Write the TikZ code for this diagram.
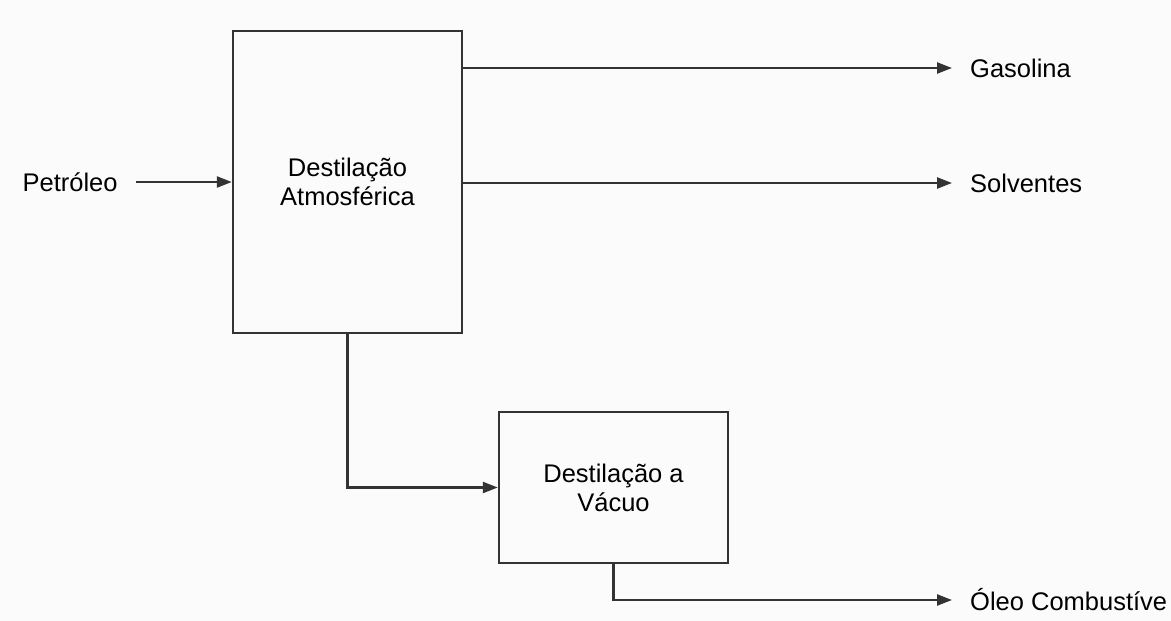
\documentclass[tikz,border=0pt]{standalone}
\usepackage{fontspec}
\setmainfont{Liberation Sans}
\usepackage{tikz}
\usetikzlibrary{arrows.meta,positioning}
\definecolor{ink}{HTML}{333333}
\definecolor{paper}{HTML}{FBFBFB}

\begin{document}
\begin{tikzpicture}[
    x=1pt, y=-1pt,
    font=\fontsize{25.5}{29}\selectfont,
    box/.style={rectangle, draw=ink, line width=2.4pt, fill=paper, minimum width=229pt, align=center, inner sep=0pt},
    lbl/.style={inner xsep=18pt, inner ysep=0pt, text=black},
    arrow/.style={-{Triangle[length=15pt,width=11pt]}, line width=2.4pt, color=ink}
]
\fill[paper] (0,0) rectangle (1171,621);
\useasboundingbox (0,0) rectangle (1171,621);

\node[box, minimum height=302pt] (atm) at (347.5,182) {Destilação\\Atmosférica};
\node[box, minimum height=151pt] (vac) at (613.5,487.5) {Destilação a\\Vácuo};
\node[lbl, left=96pt of atm] (petroleo) {Petróleo};
\node[lbl, anchor=west] (gas) at (952,68) {Gasolina};
\node[lbl, anchor=west] (solv) at (952,183) {Solventes};
\node[lbl, anchor=west] (oleo) at (952,600) {Óleo Combustíve};

\draw[arrow] (petroleo) -- (atm);
\draw[arrow] (atm.east |- gas.west) -- (gas.west);
\draw[arrow] (atm.east |- solv.west) -- (solv.west);
\draw[arrow] (atm.south) |- (vac.west);
\draw[arrow] (vac.south) |- (oleo.west);
\end{tikzpicture}
\end{document}
